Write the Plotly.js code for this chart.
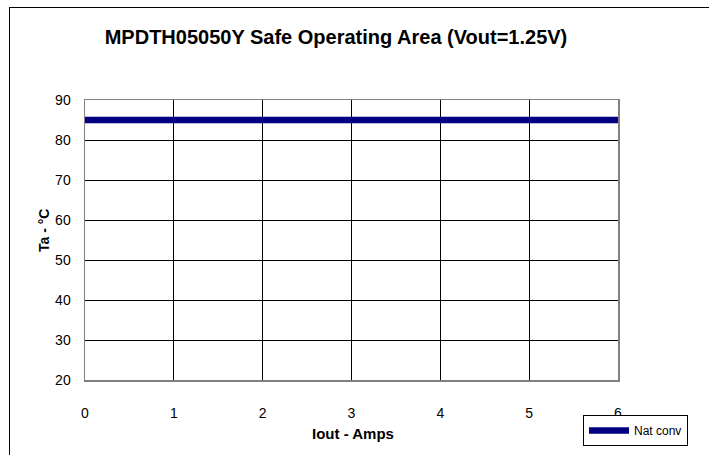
<!DOCTYPE html>
<html>
<head>
<meta charset="utf-8">
<script src="https://cdn.plot.ly/plotly-3.0.1.min.js"></script>
<style>
html,body{margin:0;padding:0;background:#fff;overflow:hidden;}
#frame{position:absolute;left:9px;top:7px;width:900px;height:900px;border-left:1.5px solid #000;border-top:1.5px solid #000;pointer-events:none;z-index:5;}
#chart{width:709px;height:455px;}
</style>
</head>
<body>
<div id="frame"></div>
<div id="chart"></div>
<script>
const iout = [0, 1, 2, 3, 4, 5, 6];
const natConv = [85, 85, 85, 85, 85, 85, 85];
const xTicks = [0, 1, 2, 3, 4, 5, 6];
const yTicks = [20, 30, 40, 50, 60, 70, 80, 90];

const font = 'Liberation Sans, Arial, sans-serif';
Plotly.newPlot('chart', [{
  x: iout, y: natConv, type: 'scatter', mode: 'lines', name: 'Nat conv',
  line: {color: '#000080', width: 6.5}
}], {
  width: 709, height: 455,
  margin: {l: 85, r: 91, t: 100, b: 75, autoexpand: false},
  paper_bgcolor: '#fff', plot_bgcolor: '#fff',
  font: {family: font, size: 14, color: '#000'},
  title: {text: '<b>MPDTH05050Y Safe Operating Area (Vout=1.25V)</b>', font: {size: 20, family: font},
          x: 336/709, xanchor: 'center', xref: 'container', y: 1 - 37/455, yanchor: 'middle', yref: 'container'},
  xaxis: {range: [0, 6], tickvals: xTicks, ticks: '', showgrid: true, gridcolor: '#000', gridwidth: 1,
          showline: true, mirror: true, linecolor: '#808080', linewidth: 1.5, zeroline: false,
          ticklabelstandoff: 20, fixedrange: true},
  yaxis: {range: [20, 90], tickvals: yTicks, ticks: '', showgrid: true, gridcolor: '#000', gridwidth: 1,
          showline: true, mirror: true, linecolor: '#808080', linewidth: 1.5, zeroline: false,
          ticklabelstandoff: 10, fixedrange: true},
  annotations: [
    {text: '<b>Iout - Amps</b>', xref: 'paper', yref: 'paper', x: (353 - 85) / 533, y: (380 - 433) / 280,
     xanchor: 'center', yanchor: 'middle', showarrow: false, font: {size: 15, family: font}},
    {text: '<b>Ta - °C</b>', xref: 'paper', yref: 'paper', x: (44 - 85) / 533, y: (380 - 231) / 280,
     xanchor: 'center', yanchor: 'middle', showarrow: false, textangle: -90, font: {size: 14, family: font}}
  ],
  showlegend: true,
  legend: {x: (583 - 85) / 533, xanchor: 'left', y: (380 - 415) / 280, yanchor: 'top', bordercolor: '#000', borderwidth: 1,
           bgcolor: '#fff', font: {size: 12, family: font}, itemwidth: 40, entrywidth: 100, tracegroupgap: 0}
}, {staticPlot: true});
</script>
</body>
</html>
